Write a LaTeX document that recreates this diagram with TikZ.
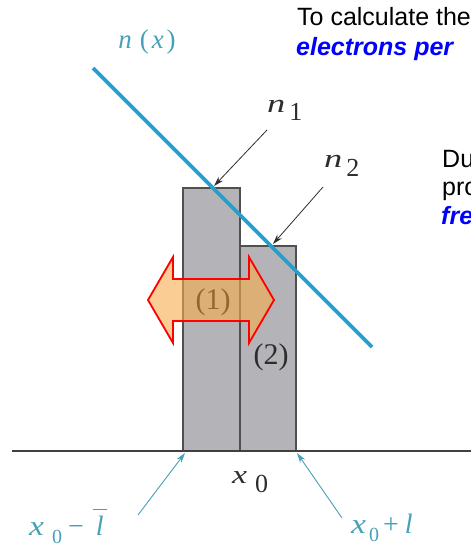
\documentclass[tikz,border=0pt]{standalone}
\usepackage{fontspec}
\setmainfont{Liberation Serif}
\newfontfamily\arialfont{Liberation Sans}
\usetikzlibrary{arrows.meta}
\definecolor{nblue}{RGB}{35,160,205}
\definecolor{tealtxt}{RGB}{70,160,185}
\definecolor{boxgray}{RGB}{180,180,184}
\definecolor{edgegray}{RGB}{80,80,80}
\definecolor{arrfill}{RGB}{245,172,75}
\definecolor{txtblue}{RGB}{0,0,255}
\definecolor{lbldark}{RGB}{45,45,45}
\begin{document}
\begin{tikzpicture}[x=1pt,y=-1pt,
  bar/.style={fill=boxgray,draw=edgegray,line width=1.6pt},
  axisline/.style={draw=edgegray!80!black,line width=1.5pt},
  curve/.style={draw=nblue,line width=3.6pt},
  ptr/.style={draw=lbldark,line width=0.8pt,-{Stealth[length=10pt,width=6pt]}},
  tptr/.style={draw=tealtxt,line width=0.9pt,-{Stealth[length=10pt,width=6pt]}},
  bigarrow/.style={fill=arrfill,fill opacity=0.6,draw=red,line width=1.8pt,line join=miter},
  sanstxt/.style={anchor=base west,inner sep=0pt,font=\arialfont\fontsize{25}{30}\selectfont},
  bluetxt/.style={sanstxt,text=txtblue,font=\arialfont\fontsize{25}{30}\selectfont\bfseries\itshape},
  mathlbl/.style={inner sep=0pt,font=\fontsize{26}{30}\selectfont},
  reglbl/.style={inner sep=0pt,font=\fontsize{30}{34}\selectfont,text=lbldark}]
\useasboundingbox (0,0) rectangle (471,552);
\begin{scope}
\clip (0,0) rectangle (471,552);
% text blocks (cut off by the right edge, as in the picture)
\node[sanstxt] (t1) at (297,25) {To calculate the};
\node[bluetxt] (t2) at (296,55) {electrons per};
\node[sanstxt] (t3) at (442,167) {Du};
\node[sanstxt] (t4) at (442,195.5) {pro};
\node[bluetxt] (t5) at (441,224) {fre};

% bars
\draw[bar] (183,188) rectangle (240,451);
\draw[bar] (240,246) rectangle (296,451);
\node[reglbl] (lab2) at (271,357) {(2)};
\node[reglbl,text=black] (lab1) at (213,302) {(1)};

% axis
\coordinate (axL) at (12,451);
\coordinate (axR) at (471,451);
\draw[axisline] (axL) -- (axR);

% n(x) line
\coordinate (c0) at (93,68);
\coordinate (c1) at (372,347);
\draw[curve] (c0) -- (c1);

% double arrow
\draw[bigarrow] (148,300) -- (173,257) -- (173,279) -- (249,279) -- (249,257)
  -- (274,300) -- (249,343) -- (249,321) -- (173,321) -- (173,343) -- cycle;

% labels
\node[mathlbl,text=tealtxt,font=\fontsize{27}{30}\selectfont] (nx) at (147,42)
  {\textit{n}\hspace{8pt}(\hspace{3pt}\textit{x}\hspace{3pt})};
\node[mathlbl,text=lbldark,anchor=base west] (n1) at (267,112)
  {\scalebox{1.4}[1]{\textit{n}}\hspace{4pt}\raisebox{-8pt}{1}};
\node[mathlbl,text=lbldark,anchor=base west] (n2) at (324,167)
  {\scalebox{1.4}[1]{\textit{n}}\hspace{4pt}\raisebox{-9pt}{2}};
\node[mathlbl,text=lbldark,anchor=base west] (x0) at (232,483)
  {\scalebox{1.3}[1]{\textit{x}}\hspace{8pt}\raisebox{-9pt}{0}};
\node[mathlbl,text=tealtxt,anchor=base west,font=\fontsize{28}{30}\selectfont] (xm) at (29,535)
  {\scalebox{1.2}[1]{\textit{x}}\hspace{8pt}\raisebox{-8pt}{\fontsize{20}{22}\selectfont 0}\hspace{6pt}−\hspace{12pt}\makebox[0pt][l]{\hspace{-3pt}\rule[25pt]{14pt}{1.3pt}}\textit{l}};
\node[mathlbl,text=tealtxt,anchor=base west,font=\fontsize{28}{30}\selectfont] (xp) at (351,533)
  {\scalebox{1.2}[1]{\textit{x}}\hspace{3pt}\raisebox{-8pt}{\fontsize{20}{22}\selectfont 0}\hspace{4pt}+\hspace{6pt}\textit{l}};

% pointers
\coordinate (p1) at (214,186);
\coordinate (p2) at (273,244);
\coordinate (q1) at (185,453);
\coordinate (q2) at (297,453);
\coordinate (s1) at (267,130);
\coordinate (s2) at (323,187);
\coordinate (s3) at (138,515);
\coordinate (s4) at (342,518);
\draw[ptr] (s1) -- (p1);
\draw[ptr] (s2) -- (p2);
\draw[tptr] (s3) -- (q1);
\draw[tptr] (s4) -- (q2);
\end{scope}
\end{tikzpicture}
\end{document}
